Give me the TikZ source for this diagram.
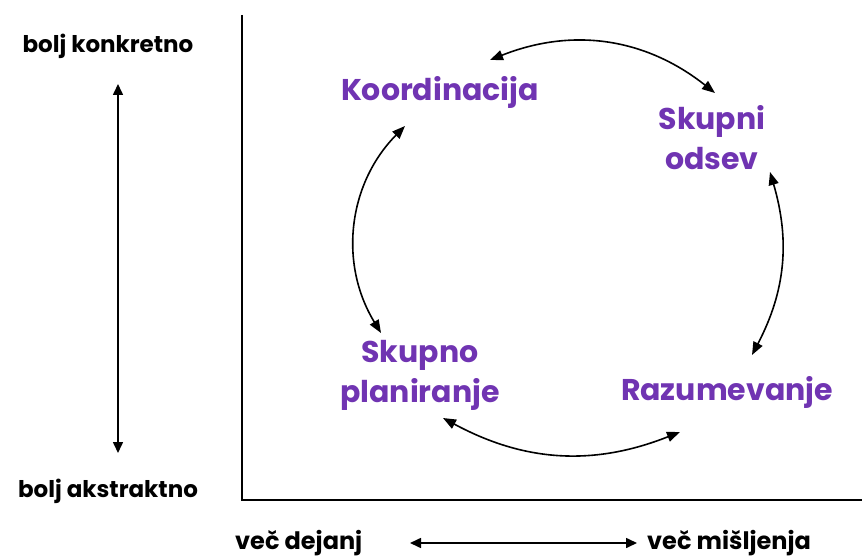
\documentclass[tikz,border=0pt]{standalone}
\usepackage{fontspec}
\setmainfont{Poppins}
\usetikzlibrary{arrows.meta}
\definecolor{lbl}{RGB}{112,52,178}
\tikzset{
  stage/.style={text=lbl, font=\fontsize{30}{40}\selectfont\bfseries, align=center, inner sep=0pt},
  axlbl/.style={text=black, font=\fontsize{23}{26}\selectfont\bfseries, inner sep=0pt},
  hxlbl/.style={text=black, font=\fontsize{24}{27}\selectfont\bfseries, inner sep=0pt},
  cyc/.style={{Triangle[length=13pt,width=10pt]}-{Triangle[length=13pt,width=10pt]}, line width=1.6pt},
  axis/.style={line width=1.6pt},
  dir/.style={{Triangle[length=11pt,width=10pt]}-{Triangle[length=11pt,width=10pt]}, line width=1.6pt}
}
\begin{document}
\begin{tikzpicture}[x=1pt,y=1pt]
\useasboundingbox (0,0) rectangle (862,558);
% axes
\coordinate (ytop) at (242,543);
\coordinate (orig) at (242,58);
\coordinate (xend) at (862,58);
\draw[axis] (ytop) -- (orig) -- (xend);
% vertical scale
\node[axlbl] (konk) at (108,512) {bolj konkretno};
\node[axlbl] (abstr) at (108,67) {bolj akstraktno};
\coordinate (vt) at (118,474);
\coordinate (vb) at (118,105);
\draw[dir] (vt) -- (vb);
% horizontal scale
\node[hxlbl, anchor=base west] (dej) at (235,9) {več dejanj};
\node[hxlbl, anchor=base west] (mis) at (647,9) {več mišljenja};
\coordinate (hl) at (410,15);
\coordinate (hr) at (637,15);
\draw[dir] (hl) -- (hr);
% stages
\node[stage] (koo) at (440,466) {Koordinacija};
\node[stage] (sko) at (712,420) {Skupni\\odsev};
\node[stage] (raz) at (727,166) {Razumevanje};
\node[stage] (skp) at (420,183) {Skupno\\planiranje};
% cycle arcs
\coordinate (a1) at (490,498);
\coordinate (a2) at (715,465);
\coordinate (b1) at (770,386);
\coordinate (b2) at (752,203);
\coordinate (c1) at (680,126);
\coordinate (c2) at (443,140);
\coordinate (d1) at (381,225);
\coordinate (d2) at (405,432);
\draw[cyc] (a1) to[bend left=30] (a2);
\draw[cyc] (b1) to[bend left=22] (b2);
\draw[cyc] (c1) to[bend left=25] (c2);
\draw[cyc] (d1) to[bend left=38] (d2);
\end{tikzpicture}
\end{document}
